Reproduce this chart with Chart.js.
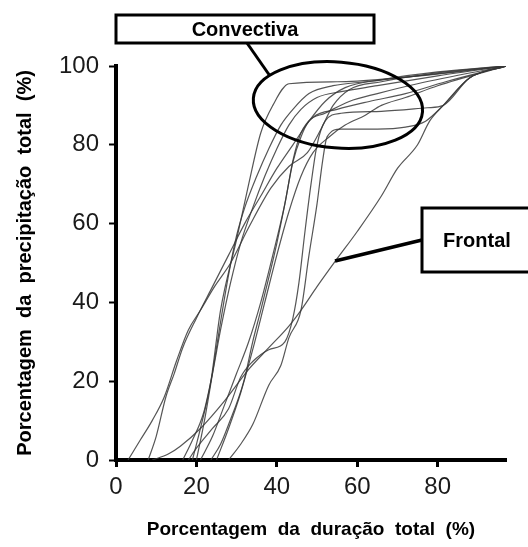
<!DOCTYPE html>
<html>
<head>
<meta charset="utf-8">
<script src="https://cdn.jsdelivr.net/npm/chart.js@4.4.0/dist/chart.umd.min.js"></script>
<style>
  html, body { margin: 0; padding: 0; background: #fff; }
</style>
</head>
<body>
<canvas id="massCurves" width="528" height="547"></canvas>
<script>
// cumulative curves, [% of duration, % of rainfall]
const conv1 = [[3,0],[6,5],[9,10],[12,16],[15,25],[18,33],[21,38],[24.5,44],[28.5,50],[33,59],[38.5,69],[43,74.5],[47.6,78],[51,84],[54,90],[58,94],[66,96],[78,98],[97,100]];
const conv2 = [[8,0],[10,6],[12.4,16],[14.5,22],[16.6,28.5],[20,36],[24,44],[28,52],[32,60],[36,67],[40,74],[44,80],[48,86],[52,91],[57,94.5],[66,96.5],[80,98.5],[97,100]];
const conv3 = [[19,0],[21,8],[23.6,20],[26,38],[30,56],[33,70],[36,83],[39,90],[43,95.5],[55,96],[70,97],[85,98.5],[97,100]];
const conv4 = [[16.6,0],[19,5],[21.8,12],[24,22],[26,33],[28.5,45],[31,55],[34,64],[37,72],[40,79],[43,85],[46,89],[50,92],[56,93.5],[65,95],[80,97.5],[97,100]];
const conv5 = [[23.6,0],[26,4],[28,9],[31.8,20],[34,30],[36,38],[37.7,45],[40,55],[42,65],[44,75.6],[46,82],[48,86],[52,88],[58,91],[65,93],[75,95.5],[97,100]];
const conv6 = [[28,0],[31,4],[34,9],[38,19],[41,24],[43,31],[46,38],[48,52],[50,65],[51.4,76],[52.5,82],[56,84],[65,84],[72,84.5],[77,86],[81.4,90],[88,97],[97,100]];
const conv7 = [[18,0],[20,3],[24,8],[28,13],[31,21],[34,25],[38,28],[42,30],[44,36],[45.5,45],[47,58],[48.5,70],[50,80],[52,86],[56,88],[66,88.5],[77.4,89.4],[81.4,90],[88,97],[97,100]];
const conv8 = [[20,0],[22,10],[24,22],[26,35],[28,47],[30,57],[32,64],[35,72],[38,79],[41,85],[44,89],[48,93],[54,95],[62,96],[75,97.5],[97,100]];
const conv9 = [[21,0],[24,6],[27,14],[30,22],[33,30],[36,40],[39,52],[42,65],[44,76],[46,83],[49,87],[55,89],[63,91],[72,93],[82,96],[97,100]];
const conv10 = [[25,0],[28,8],[31,17],[34,28],[37,40],[40,52],[43,63],[46,72],[49,78],[53,82],[57,85],[62,87.5],[66,90],[72,92],[80,95],[97,100]];
const frontal = [[9,0],[13,1.5],[16,3.5],[21,8],[27,15],[33,23],[38,28.5],[43,34],[46,38],[50,44],[54.5,50.4],[60,58],[66,67],[70,74],[75,80],[78,86],[81.4,90],[88,97],[97,100]];

const curves = [conv1, conv2, conv3, conv4, conv5, conv6, conv7, conv8, conv9, conv10, frontal];
const xTicks = [0, 20, 40, 60, 80];
const yTicks = [0, 20, 40, 60, 80, 100];

const FONT = '"Liberation Sans", Arial, sans-serif';

// boxes, pointers and the ellipse drawn over the plot
const callouts = {
    id: 'callouts',
    afterDraw(chart) {
        const ctx = chart.ctx;
        const xs = chart.scales.x, ys = chart.scales.y;
        ctx.save();
        ctx.strokeStyle = '#000';
        ctx.fillStyle = '#fff';

        // ellipse round the convective tops
        const cx = xs.getPixelForValue(55.2), cy = ys.getPixelForValue(90.1);
        const rx = xs.getPixelForValue(55.2 + 21.1) - cx;
        const ry = cy - ys.getPixelForValue(90.1 + 10.9);
        ctx.lineWidth = 3;
        ctx.beginPath();
        ctx.ellipse(cx, cy, rx, ry, 0.08, 0, Math.PI * 2);
        ctx.stroke();

        // pointers
        ctx.lineWidth = 3;
        ctx.beginPath();
        ctx.moveTo(247, 43); ctx.lineTo(270, 76);
        ctx.stroke();
        ctx.lineWidth = 3.5;
        ctx.beginPath();
        ctx.moveTo(335, 261); ctx.lineTo(422, 240);
        ctx.stroke();

        // boxes
        ctx.lineWidth = 3;
        ctx.fillRect(116, 15, 258, 28);
        ctx.strokeRect(116, 15, 258, 28);
        ctx.fillRect(422, 208, 110, 64);
        ctx.strokeRect(422, 208, 110, 64);

        ctx.fillStyle = '#000';
        ctx.font = 'bold 20px ' + FONT;
        ctx.textAlign = 'center';
        ctx.textBaseline = 'middle';
        ctx.fillText('Convectiva', 245, 30);
        ctx.fillText('Frontal', 477, 241);
        ctx.restore();
    }
};

new Chart(document.getElementById('massCurves'), {
    type: 'line',
    data: {
        datasets: curves.map(c => ({
            data: c.map(p => ({ x: p[0], y: p[1] })),
            borderColor: 'rgba(55,55,55,0.85)',
            borderWidth: 1.2,
            pointRadius: 0,
            cubicInterpolationMode: 'monotone',
            fill: false
        }))
    },
    options: {
        responsive: false,
        animation: false,
        devicePixelRatio: 1,
        layout: { padding: { top: 66, right: 22, left: 0, bottom: 0 } },
        plugins: { legend: { display: false }, tooltip: { enabled: false } },
        scales: {
            x: {
                type: 'linear',
                min: 0,
                max: 97,
                afterFit: s => { s.height = 87; },
                afterBuildTicks: s => { s.ticks = xTicks.map(v => ({ value: v })); },
                border: { display: true, color: '#000', width: 4 },
                grid: { drawOnChartArea: false, drawTicks: true, tickLength: 7, tickWidth: 3, tickColor: '#000' },
                ticks: { color: '#1a1a1a', font: { family: FONT, size: 24 }, padding: 6, maxRotation: 0 },
                title: {
                    display: true,
                    text: 'Porcentagem  da  duração  total  (%)',
                    color: '#000',
                    font: { family: FONT, size: 19, weight: 'bold' },
                    padding: { top: 0, bottom: 6 }
                }
            },
            y: {
                min: 0,
                max: 100,
                afterFit: s => { s.width = 116; },
                afterBuildTicks: s => { s.ticks = yTicks.map(v => ({ value: v })); },
                border: { display: true, color: '#000', width: 4 },
                grid: { drawOnChartArea: false, drawTicks: true, tickLength: 7, tickWidth: 2, tickColor: '#000' },
                ticks: { color: '#1a1a1a', font: { family: FONT, size: 24 }, padding: 10 },
                title: {
                    display: true,
                    text: 'Porcentagem  da  precipitação  total  (%)',
                    color: '#000',
                    font: { family: FONT, size: 20, weight: 'bold' },
                    padding: { top: 13, bottom: 0 }
                }
            }
        }
    },
    plugins: [callouts]
});
</script>
</body>
</html>
